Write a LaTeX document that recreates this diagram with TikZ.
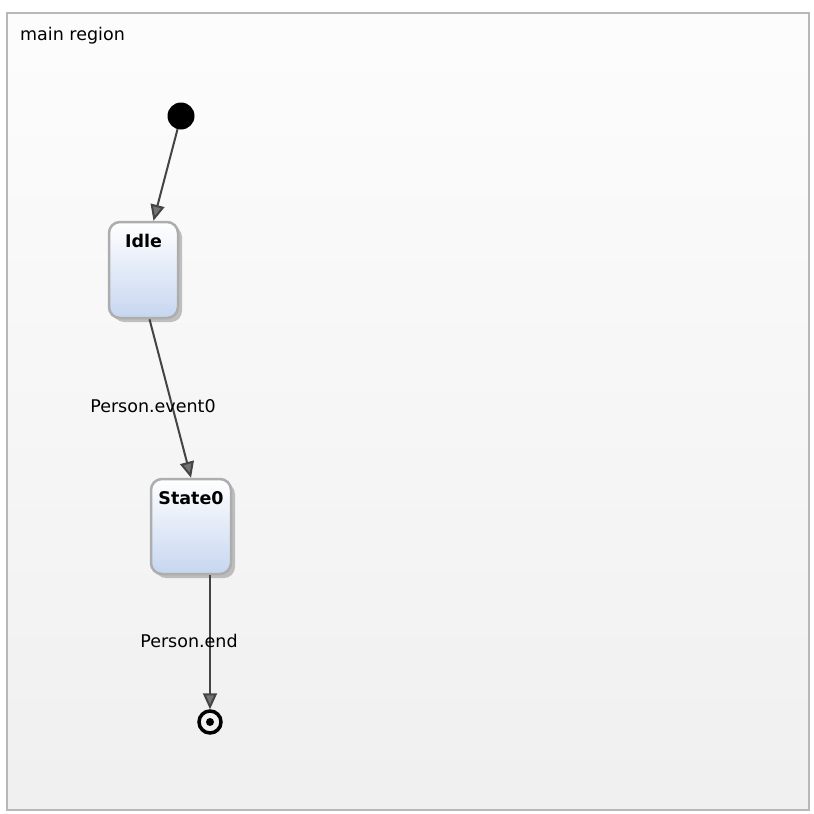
\documentclass[tikz,border=0pt]{standalone}
\usepackage{fontspec}
\setmainfont{DejaVu Sans}
\usetikzlibrary{positioning, arrows.meta, shadows, calc}
\definecolor{statebottom}{RGB}{198,214,240}
\definecolor{linegray}{RGB}{68,68,68}

\begin{document}
\begin{tikzpicture}[x=1pt, y=-1pt,
    region/.style={rectangle, draw=black!28, line width=1.5pt,
                   top color=black!1, bottom color=black!6},
    state/.style={rectangle, rounded corners=11pt, draw=black!32, line width=2.5pt,
                  top color=white, bottom color=statebottom,
                  drop shadow={shadow xshift=4pt, shadow yshift=-4pt, fill=black!40, opacity=0.6}},
    statename/.style={font=\fontsize{17.5}{20}\selectfont\bfseries, inner sep=0pt},
    initial/.style={circle, fill=black, minimum size=27pt, inner sep=0pt},
    final/.style={circle, draw=black, line width=3.5pt, minimum size=22pt, inner sep=0pt},
    finaldot/.style={circle, fill=black, minimum size=8pt, inner sep=0pt},
    arrow/.style={-{Triangle[length=16pt, width=14pt, fill=black!55]}, draw=linegray, line width=2pt},
    label/.style={font=\fontsize{17.5}{20}\selectfont, inner sep=0pt}
]
    \useasboundingbox (0,0) rectangle (814,814);

    % Region
    \node[region, minimum width=802pt, minimum height=797pt] (main) at (408,411.5) {};
    \node[label, anchor=west] (mainname) at (20,36) {main region};

    % Initial state
    \node[initial] (init) at (181,116) {};

    % Idle
    \node[state, minimum width=69pt, minimum height=96pt] (idle) at (143.5,270) {};
    \node[statename, below=13pt of idle.north] (idlename) {Idle};

    % State0
    \node[state, minimum width=80pt, minimum height=95pt] (state0) at (191,526.5) {};
    \node[statename, below=14pt of state0.north] (state0name) {State0};

    % Final state
    \node[final] (final) at (210,722) {};
    \node[finaldot] (finaldot) at (final) {};

    % Transitions
    \draw[arrow] (init) -- ([xshift=10pt]idle.north);
    \draw[arrow] ([xshift=6pt]idle.south) -- (state0.north);
    \draw[arrow] (state0.south -| final) -- (final);

    % Labels
    \node[label] (ev0) at (153,406) {Person.event0};
    \node[label] (evend) at (189,641) {Person.end};

\end{tikzpicture}
\end{document}
